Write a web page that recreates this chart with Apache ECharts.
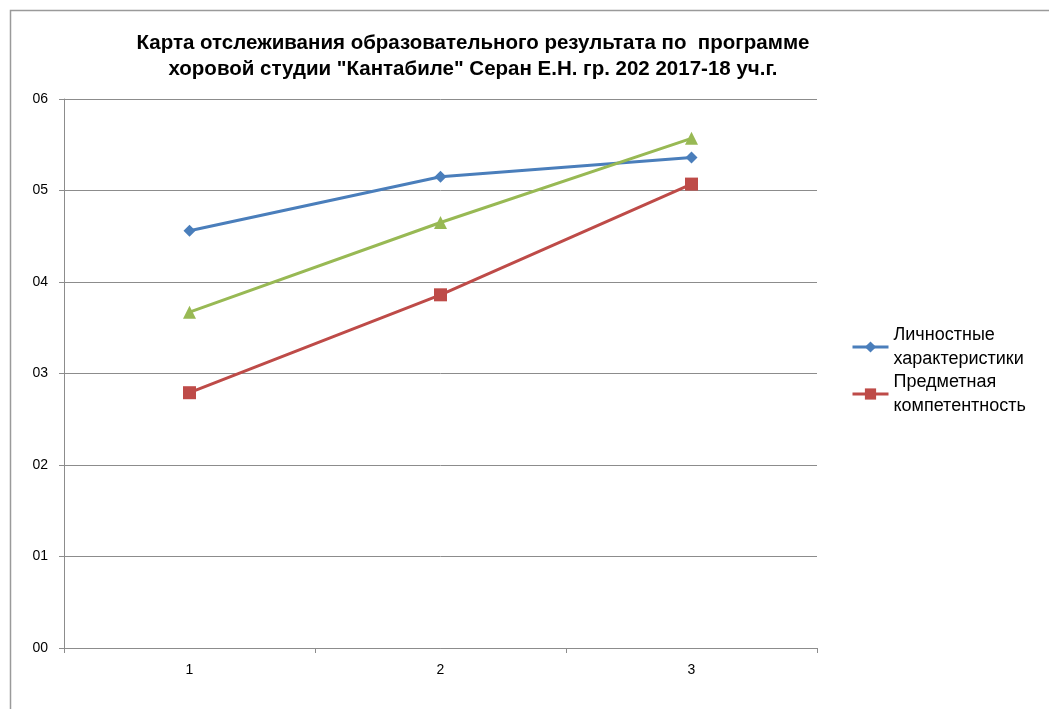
<!DOCTYPE html>
<html>
<head>
<meta charset="utf-8">
<script src="https://cdn.jsdelivr.net/npm/echarts@6/dist/echarts.min.js"></script>
<style>
html,body{margin:0;padding:0;background:#fff;}
#c{width:1049px;height:709px;}
</style>
</head>
<body>
<div id="c"></div>
<script>
const titleText = 'Карта отслеживания образовательного результата по  программе\nхоровой студии "Кантабиле" Серан Е.Н. гр. 202 2017-18 уч.г.';
const categories = ['1', '2', '3'];
const seriesNames = ['Личностные характеристики', 'Предметная компетентность', 'Ряд3'];
const personal = [4.56, 5.15, 5.36];
const subject = [2.79, 3.86, 5.07];
const third = [3.67, 4.65, 5.57];
const yTicks = ['00', '01', '02', '03', '04', '05', '06'];

const chart = echarts.init(document.getElementById('c'));
const font = "'Liberation Sans', Arial, sans-serif";
const LH = 23.5;
chart.setOption({
  backgroundColor: '#fff',
  animation: false,
  graphic: [{
    type: 'rect', left: 8, top: 8,
    shape: { width: 1200, height: 900 },
    style: { fill: 'none', stroke: '#9a9a9a', lineWidth: 1.5 }
  }],
  title: {
    text: titleText,
    left: 468, top: 25, textAlign: 'center',
    textStyle: { fontFamily: font, fontSize: 20.5, fontWeight: 'bold', color: '#000', lineHeight: 26 }
  },
  legend: {
    orient: 'vertical',
    left: 851, top: 334 - 1.5 * LH + 13, padding: 0,
    data: [seriesNames[0], seriesNames[1]],
    itemWidth: 36, itemHeight: 14, itemGap: -LH,
    lineStyle: { width: 3 },
    formatter: n => n.replace(' ', '\n'),
    textStyle: { fontFamily: font, fontSize: 18, color: '#000', lineHeight: LH, padding: [LH, 0, 0, 0] }
  },
  grid: { left: 64, right: 232, top: 99, bottom: 61 },
  xAxis: {
    type: 'category',
    data: categories,
    boundaryGap: true,
    axisLine: { lineStyle: { color: '#8c8c8c', width: 1 } },
    axisTick: { show: true, length: 5, lineStyle: { color: '#8c8c8c' } },
    axisLabel: { fontFamily: font, fontSize: 14, color: '#000', margin: 15 }
  },
  yAxis: {
    type: 'value', min: 0, max: 6, interval: 1,
    axisLine: { show: true, lineStyle: { color: '#8c8c8c', width: 1 } },
    axisTick: { show: true, length: 5, inside: false, lineStyle: { color: '#8c8c8c' } },
    splitLine: { lineStyle: { color: '#8c8c8c', width: 1 } },
    axisLabel: { fontFamily: font, fontSize: 14, color: '#000', margin: 16,
      formatter: v => yTicks[v] }
  },
  series: [
    { name: seriesNames[0], type: 'line', data: personal, symbol: 'diamond', symbolSize: 12,
      color: '#4a7ebb', lineStyle: { width: 3, color: '#4a7ebb' }, itemStyle: { color: '#4a7ebb' } },
    { name: seriesNames[1], type: 'line', data: subject, symbol: 'rect', symbolSize: 13,
      color: '#be4b48', lineStyle: { width: 3, color: '#be4b48' }, itemStyle: { color: '#be4b48' } },
    { name: seriesNames[2], type: 'line', data: third, symbol: 'triangle', symbolSize: 13,
      color: '#98b954', lineStyle: { width: 3, color: '#98b954' }, itemStyle: { color: '#98b954' } }
  ]
});
</script>
</body>
</html>
